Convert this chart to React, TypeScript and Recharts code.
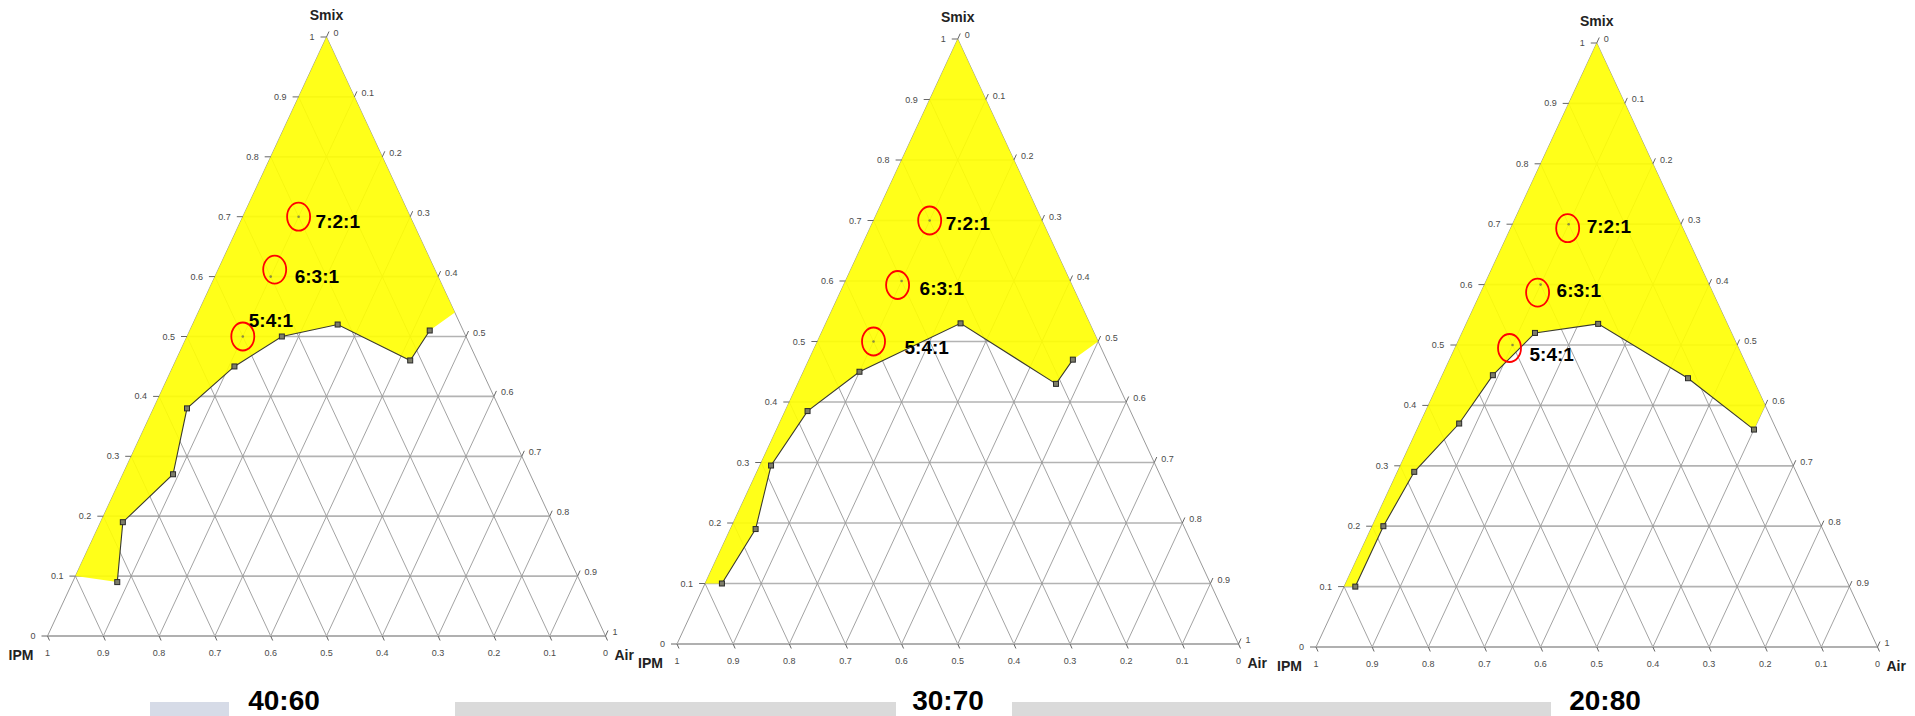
import React from "react";
import { ScatterChart, Scatter, XAxis, YAxis } from "recharts";

// ternary scale, 0..1 in steps of 0.1
const ticks = [0, 0.1, 0.2, 0.3, 0.4, 0.5, 0.6, 0.7, 0.8, 0.9, 1];

const titles = ["40:60", "30:70", "20:80"];

// phase boundary points, as Smix / Air fractions (IPM is the rest)
const smix4060 = [0.09, 0.19, 0.27, 0.38, 0.45, 0.5, 0.52, 0.46, 0.51];
const air4060 = [0.08, 0.04, 0.09, 0.06, 0.11, 0.17, 0.26, 0.42, 0.43];
const smix3070 = [0.1, 0.19, 0.295, 0.385, 0.45, 0.53, 0.43, 0.47];
const air3070 = [0.03, 0.045, 0.02, 0.04, 0.1, 0.24, 0.46, 0.47];
const smix2080 = [0.1, 0.2, 0.29, 0.37, 0.45, 0.52, 0.535, 0.445, 0.36];
const air2080 = [0.02, 0.02, 0.03, 0.07, 0.09, 0.13, 0.235, 0.44, 0.6];

// Smix value where the yellow region meets the Smix-Air side
const edgeSmix = [0.54, 0.5, 0.4];
// yellow region starts on the Smix-IPM side at this Smix value
const startSmix = 0.1;

// marked formulas Smix:IPM:Air
const mixNames = ["7:2:1", "6:3:1", "5:4:1"];
const mixSmix = [0.7, 0.6, 0.5];
const mixAir = [0.1, 0.1, 0.1];

// ternary -> chart x/y : IPM corner x=0, Air corner x=1, Smix corner on top
const toXY = (smix: number, air: number) => ({ x: air + smix / 2, y: smix });

const FONT = '"Liberation Sans", Arial, sans-serif';
const YELLOW = "#FFFF00";

// layout / styling per diagram (pixels)
const panels = [
  {
    left: 0,
    width: 640,
    margin: { top: 37, right: 34.5, bottom: 80, left: 47.5 },
    titleX: 284,
    smix: smix4060,
    air: air4060,
    text: { "7:2:1": [17, 5], "6:3:1": [24, 0], "5:4:1": [6, -16] },
    nudge: { "7:2:1": [0, 0], "6:3:1": [4, -7], "5:4:1": [0, 0] },
  },
  {
    left: 612,
    width: 668,
    margin: { top: 39, right: 41.5, bottom: 72, left: 65 },
    titleX: 948,
    smix: smix3070,
    air: air3070,
    text: { "7:2:1": [16, 3], "6:3:1": [18, 7], "5:4:1": [31, 6] },
    nudge: { "7:2:1": [0, 0], "6:3:1": [-4, 4], "5:4:1": [0, 0] },
  },
  {
    left: 1260,
    width: 655,
    margin: { top: 43, right: 37.5, bottom: 69, left: 56 },
    titleX: 1605,
    smix: smix2080,
    air: air2080,
    text: { "7:2:1": [18, 2], "6:3:1": [16, 6], "5:4:1": [17, 9] },
    nudge: { "7:2:1": [-1, 4], "6:3:1": [-3, 8], "5:4:1": [-3, 3] },
  },
];

const inner = ticks.slice(1, -1);
const smixLines = inner.map((v) => [toXY(v, 0), toXY(v, 1 - v)]);
const airLines = inner.map((v) => [toXY(0, v), toXY(1 - v, v)]);
const ipmLines = inner.map((v) => [toXY(0, 1 - v), toXY(1 - v, 0)]);
const baseEdge = [toXY(0, 0), toXY(0, 1)];
const sideEdges = [
  [toXY(0, 0), toXY(1, 0)],
  [toXY(0, 1), toXY(1, 0)],
];

const tickRows = [
  ...ticks.map((v) => ({ ...toXY(v, 0), text: String(v), side: "L" })),
  ...ticks.map((a) => ({ ...toXY(1 - a, a), text: String(a), side: "R" })),
  ...ticks.map((p) => ({ ...toXY(0, 1 - p), text: String(p), side: "B" })),
];

const cornerRows = [
  { ...toXY(1, 0), name: "Smix" },
  { ...toXY(0, 0), name: "IPM" },
  { ...toXY(0, 1), name: "Air" },
];

const mixRows = mixNames.map((n, i) => ({ ...toXY(mixSmix[i], mixAir[i]), name: n }));

const Nothing = () => <g />;

function Square(p: any) {
  return (
    <rect x={p.cx - 2.5} y={p.cy - 2.5} width={5} height={5} fill="#7d7d6a" stroke="#2a2a2a" strokeWidth={1} />
  );
}

function TickMark(p: any) {
  const { cx, cy, payload } = p;
  const common = { fontFamily: FONT, fontSize: 9, fill: "#4a4a4a" };
  if (payload.side === "L") {
    return (
      <g>
        <line x1={cx - 6} y1={cy} x2={cx} y2={cy} stroke="#666" strokeWidth={1} />
        <text x={cx - 12} y={cy} textAnchor="end" dominantBaseline="central" {...common}>
          {payload.text}
        </text>
      </g>
    );
  }
  if (payload.side === "R") {
    return (
      <g>
        <line x1={cx} y1={cy} x2={cx + 2.5} y2={cy - 5.5} stroke="#666" strokeWidth={1} />
        <text x={cx + 7} y={cy - 4} textAnchor="start" dominantBaseline="central" {...common}>
          {payload.text}
        </text>
      </g>
    );
  }
  return (
    <g>
      <line x1={cx} y1={cy} x2={cx + 2} y2={cy + 4.5} stroke="#666" strokeWidth={1} />
      <text x={cx} y={cy + 17} textAnchor="middle" dominantBaseline="central" {...common}>
        {payload.text}
      </text>
    </g>
  );
}

function Corner(p: any) {
  const { cx, cy, payload } = p;
  const common = { fontFamily: FONT, fontSize: 14, fontWeight: 700, fill: "#222" };
  if (payload.name === "Smix")
    return (
      <text x={cx} y={cy - 22} textAnchor="middle" dominantBaseline="central" {...common}>
        Smix
      </text>
    );
  if (payload.name === "IPM")
    return (
      <text x={cx - 14} y={cy + 19} textAnchor="end" dominantBaseline="central" {...common}>
        IPM
      </text>
    );
  return (
    <text x={cx + 9} y={cy + 19} textAnchor="start" dominantBaseline="central" {...common}>
      Air
    </text>
  );
}

function makeMix(panel: any) {
  return (p: any) => {
    const { cx, cy, payload } = p;
    const [tx, ty] = panel.text[payload.name];
    const [nx, ny] = panel.nudge[payload.name];
    return (
      <g>
        <circle cx={cx} cy={cy} r={1.3} fill="#8c8c40" />
        <ellipse cx={cx + nx} cy={cy + ny} rx={11.5} ry={14} fill="none" stroke="#FF0000" strokeWidth={1.8} />
        <text
          x={cx + tx}
          y={cy + ty}
          textAnchor="start"
          dominantBaseline="central"
          fontFamily={FONT}
          fontSize={19}
          fontWeight={700}
          fill="#000"
        >
          {payload.name}
        </text>
      </g>
    );
  };
}

function Diagram({ panel, idx }: any) {
  const boundary = panel.smix.map((s: number, i: number) => toXY(s, panel.air[i]));
  const region = [toXY(startSmix, 0), ...boundary, toXY(edgeSmix[idx], 1 - edgeSmix[idx]), toXY(1, 0)];
  const segs: any[] = [];
  smixLines.forEach((l) => segs.push({ pts: l, stroke: "#b3b3b3", width: 1.7 }));
  airLines.forEach((l) => segs.push({ pts: l, stroke: "#999999", width: 0.9 }));
  ipmLines.forEach((l) => segs.push({ pts: l, stroke: "#999999", width: 0.9 }));
  sideEdges.forEach((l) => segs.push({ pts: l, stroke: "#9a9a9a", width: 1 }));
  segs.push({ pts: baseEdge, stroke: "#b0b0b0", width: 2.2 });

  return (
    <div style={{ position: "absolute", left: panel.left, top: 0 }}>
      <ScatterChart width={panel.width} height={716} margin={panel.margin}>
        <XAxis type="number" dataKey="x" domain={[0, 1]} hide />
        <YAxis type="number" dataKey="y" domain={[0, 1]} hide />
        {segs.map((s, i) => (
          <Scatter
            key={"g" + i}
            data={s.pts}
            line={{ stroke: s.stroke, strokeWidth: s.width }}
            lineType="joint"
            shape={Nothing}
            isAnimationActive={false}
          />
        ))}
        <Scatter
          data={region}
          line={{ fill: YELLOW, fillOpacity: 0.9, stroke: "none" }}
          lineType="joint"
          shape={Nothing}
          isAnimationActive={false}
        />
        <Scatter
          data={boundary}
          line={{ stroke: "#3b3b2e", strokeWidth: 1.1 }}
          lineType="joint"
          shape={Square}
          isAnimationActive={false}
        />
        <Scatter data={tickRows} shape={TickMark} isAnimationActive={false} />
        <Scatter data={cornerRows} shape={Corner} isAnimationActive={false} />
        <Scatter data={mixRows} shape={makeMix(panel)} isAnimationActive={false} />
      </ScatterChart>
    </div>
  );
}

export default function App() {
  return (
    <div
      style={{
        position: "absolute",
        left: 0,
        top: 0,
        width: 1915,
        height: 716,
        background: "#fff",
        overflow: "hidden",
        fontFamily: FONT,
      }}
    >
      {/* faint band along the bottom of the scanned page */}
      <div style={{ position: "absolute", left: 150, top: 702, width: 79, height: 14, background: "#d6dbe7" }} />
      <div style={{ position: "absolute", left: 455, top: 702, width: 441, height: 14, background: "#dadada" }} />
      <div style={{ position: "absolute", left: 1012, top: 702, width: 539, height: 14, background: "#dadada" }} />
      {panels.map((p, i) => (
        <Diagram key={i} panel={p} idx={i} />
      ))}
      <svg width={1915} height={716} style={{ position: "absolute", left: 0, top: 0, pointerEvents: "none" }}>
        {panels.map((p, i) => (
          <text key={i} x={p.titleX} y={710} textAnchor="middle" fontFamily={FONT} fontSize={28} fontWeight={700} fill="#000">
            {titles[i]}
          </text>
        ))}
      </svg>
    </div>
  );
}
